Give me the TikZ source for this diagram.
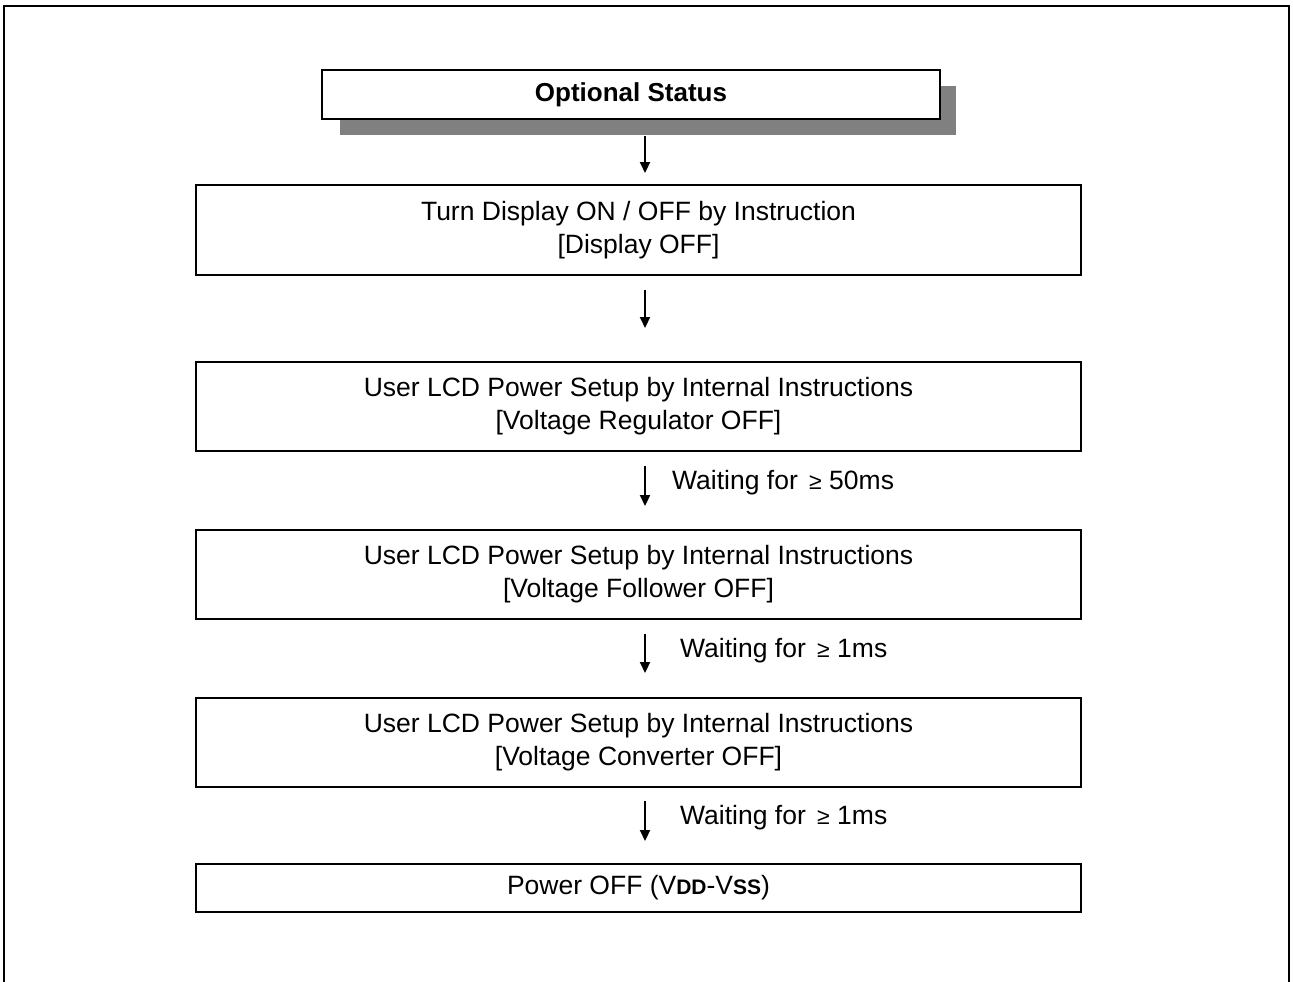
\documentclass[tikz,border=0pt]{standalone}
\usepackage{fontspec}
\setmainfont{Liberation Sans}
\usetikzlibrary{arrows.meta}
\tikzset{
  stepbox/.style={draw=black, line width=2pt, fill=white, minimum width=885pt, inner sep=0pt, align=center, font=\fontsize{26.5}{33}\selectfont},
  arr/.style={line width=2.2pt, -{Triangle[length=11pt,width=10pt]}},
  lbl/.style={anchor=west, inner sep=0pt, font=\fontsize{26.5}{30}\selectfont},
}
\newcommand{\smge}{\hspace{4pt}{\fontsize{23}{23}\selectfont ≥}}
\begin{document}
\begin{tikzpicture}[x=1pt,y=-1pt]
\useasboundingbox (0,0) rectangle (1293,982);
\clip (0,0) rectangle (1293,982);
\draw[line width=2.5pt] (4,995) -- (4,6) -- (1289,6) -- (1289,995);
% optional status
\fill[fill={rgb,255:red,128;green,128;blue,128}] (340,86) rectangle (956,135);
\node[draw=black, line width=2pt, fill=white, minimum width=618pt, minimum height=49pt, inner sep=0pt, font=\fontsize{26}{30}\selectfont\bfseries] (opt) at (631,94.5) {Optional Status};
% boxes
\node[stepbox, minimum height=90pt] (b1) at (638.5,230) {Turn Display ON / OFF by Instruction\\{}[Display OFF]};
\node[stepbox, minimum height=89pt] (b2) at (638.5,406.5) {User LCD Power Setup by Internal Instructions\\{}[Voltage Regulator OFF]};
\node[stepbox, minimum height=89pt] (b3) at (638.5,574.5) {User LCD Power Setup by Internal Instructions\\{}[Voltage Follower OFF]};
\node[stepbox, minimum height=89pt] (b4) at (638.5,742.5) {User LCD Power Setup by Internal Instructions\\{}[Voltage Converter OFF]};
\node[stepbox, minimum height=48pt] (b5) at (638.5,888) {Power OFF (V{\fontsize{21}{21}\selectfont\bfseries DD}-V{\fontsize{21}{21}\selectfont\bfseries SS})};
% arrows
\coordinate (a1s) at (645,136); \coordinate (a1e) at (645,173);
\coordinate (a2s) at (645,290); \coordinate (a2e) at (645,328);
\coordinate (a3s) at (645,466); \coordinate (a3e) at (645,506);
\coordinate (a4s) at (645,634); \coordinate (a4e) at (645,673);
\coordinate (a5s) at (645,801); \coordinate (a5e) at (645,841);
\draw[arr] (a1s) -- (a1e);
\draw[arr] (a2s) -- (a2e);
\draw[arr] (a3s) -- (a3e);
\draw[arr] (a4s) -- (a4e);
\draw[arr] (a5s) -- (a5e);
\node[lbl] (l3) at (672,483) {Waiting for \smge{} 50ms};
\node[lbl] (l4) at (680,651) {Waiting for \smge{} 1ms};
\node[lbl] (l5) at (680,818) {Waiting for \smge{} 1ms};
\end{tikzpicture}
\end{document}
